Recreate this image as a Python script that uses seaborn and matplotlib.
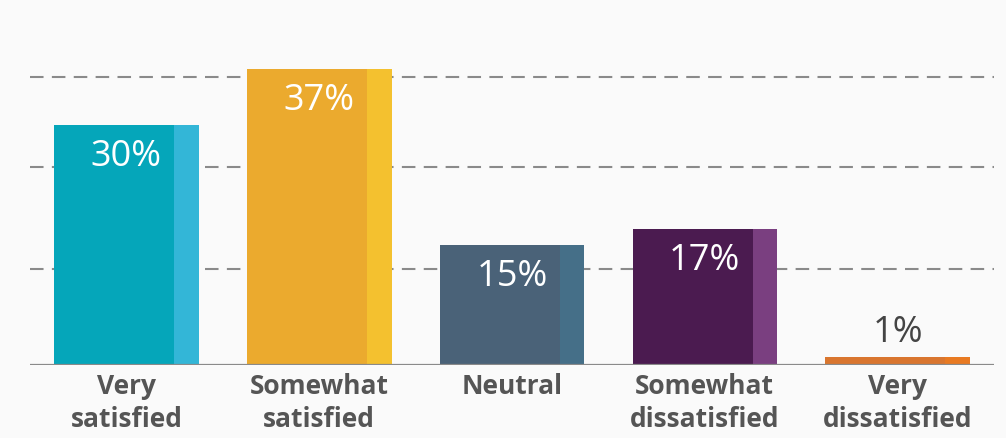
import matplotlib
matplotlib.use("Agg")
import matplotlib.pyplot as plt
from matplotlib.patches import Rectangle
import seaborn as sns
import pandas as pd

categories = ["Very\nsatisfied", "Somewhat\nsatisfied", "Neutral", "Somewhat\ndissatisfied", "Very\ndissatisfied"]
values = [30, 37, 15, 17, 1]
labels = ["30%", "37%", "15%", "17%", "1%"]
main_colors = ["#05A6BA", "#EBAA2E", "#4A6278", "#4B1B50", "#D9762F"]
strip_colors = ["#33B6D7", "#F4C12F", "#456F88", "#7A3F80", "#E87A22"]
grid_levels = [12, 24.7, 36]

sns.set_theme(style="white")
plt.rcParams["font.family"] = ["Open Sans", "DejaVu Sans"]

bg = "#FAFAFA"
fig = plt.figure(figsize=(10.06, 4.39), dpi=100, facecolor=bg)
W, H = 1006, 439
ax_left, ax_right = 30, 994
ax_top, ax_bottom = 20, 366
ax = fig.add_axes([ax_left / W, 1 - ax_bottom / H, (ax_right - ax_left) / W, (ax_bottom - ax_top) / H])
ax.set_facecolor(bg)

df = pd.DataFrame({"cat": categories, "val": values})
sns.barplot(data=df, x="cat", y="val", hue="cat", palette=main_colors, width=0.75,
            legend=False, ax=ax, saturation=1, zorder=3)

ax.set_xlim(-0.5, 4.5)
ax.set_ylim(0, (ax_bottom - ax_top) / 8.0)

# lighter right strip on each bar
for p, c in zip(list(ax.patches), strip_colors):
    p.set_edgecolor("none")
    x0, w, h = p.get_x(), p.get_width(), p.get_height()
    sw = w * 0.17
    ax.add_patch(Rectangle((x0 + w - sw, 0), sw, h, facecolor=c, edgecolor="none", zorder=3))

# value labels
for p, lab, v in zip(list(ax.patches)[:5], labels, values):
    cx = p.get_x() + p.get_width() / 2
    if v >= 5:
        ax.annotate(lab, (cx, v), xytext=(0, -31), textcoords="offset pixels",
                    ha="center", va="center", color="white", fontsize=26, zorder=5)
    else:
        ax.annotate(lab, (cx, v), xytext=(0, 25), textcoords="offset pixels",
                    ha="center", va="center", color="#444444", fontsize=26, zorder=5)

# dashed grid
for g in grid_levels:
    ax.axhline(g, color="#8A8A8A", lw=1.5, ls=(0, (6.5, 4)), zorder=1)
ax.axhline(0, color="#8A8A8A", lw=1.6, zorder=4)

ax.set_yticks([])
ax.set_xlabel("")
ax.set_ylabel("")
ax.tick_params(axis="x", length=0, pad=5)
for t in ax.get_xticklabels():
    t.set_fontsize(19)
    t.set_fontweight("bold")
    t.set_color("#555555")
    t.set_linespacing(1.3)
for s in ax.spines.values():
    s.set_visible(False)

fig.savefig("out.png", dpi=100, facecolor=bg)
